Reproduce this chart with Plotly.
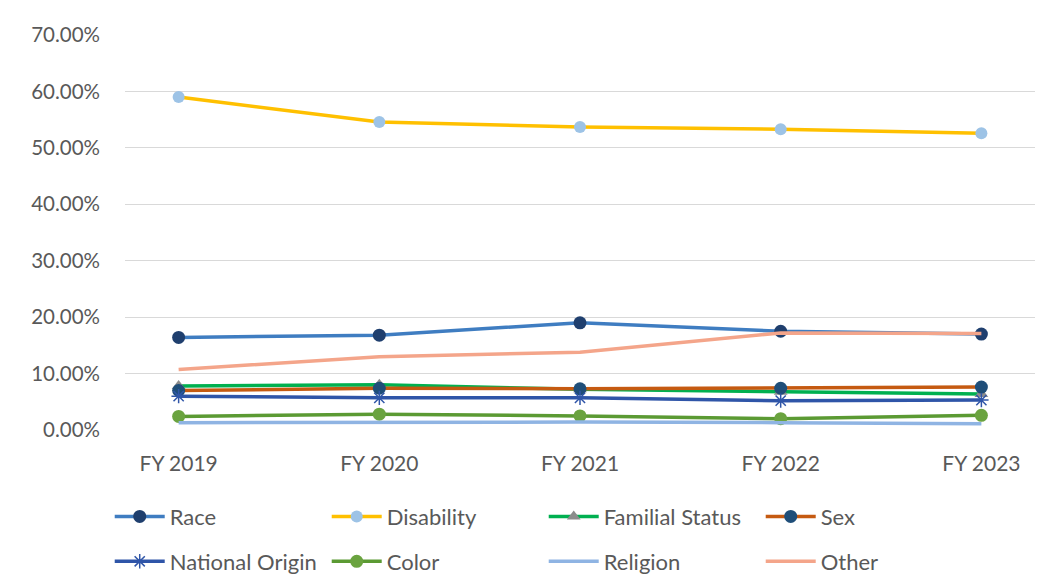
import plotly.graph_objects as go

years = ["FY 2019", "FY 2020", "FY 2021", "FY 2022", "FY 2023"]

race = [16.4, 16.8, 19.0, 17.5, 17.0]
disability = [59.0, 54.6, 53.7, 53.3, 52.6]
familial_status = [7.8, 8.0, 7.2, 6.8, 6.4]
sex = [7.0, 7.4, 7.3, 7.4, 7.6]
national_origin = [6.0, 5.7, 5.7, 5.2, 5.3]
color = [2.4, 2.8, 2.5, 2.0, 2.6]
religion = [1.3, 1.4, 1.4, 1.3, 1.1]
other = [10.7, 13.0, 13.8, 17.2, 17.1]

y_ticks = [0, 10, 20, 30, 40, 50, 60, 70]
y_tick_labels = [f"{v:.2f}%" for v in y_ticks]

# (name, values, line colour, marker, legend row)
series = [
    ("Race", race, "#3F7DC1", dict(symbol="circle", size=13, color="#1F3F6E"), "legend"),
    ("Disability", disability, "#FFC000", dict(symbol="circle", size=12, color="#9DC3E6"), "legend"),
    ("Familial Status", familial_status, "#00B050",
     dict(symbol="triangle-up", size=12, color="#8C8C8C"), "legend"),
    ("Sex", sex, "#C55A11", dict(symbol="circle", size=13, color="#1F4E79"), "legend"),
    ("National Origin", national_origin, "#2F55A8",
     dict(symbol="asterisk-open", size=12, color="#2F55A8", line=dict(width=1.5, color="#2F55A8")),
     "legend2"),
    ("Color", color, "#5B9A33", dict(symbol="circle", size=13, color="#6AA33F"), "legend2"),
    ("Religion", religion, "#8FB4E3", None, "legend2"),
    ("Other", other, "#F4A58A", None, "legend2"),
]

fig = go.Figure()
for name, vals, line_color, marker, leg in series:
    kwargs = dict(x=years, y=vals, name=name, legend=leg,
                  line=dict(color=line_color, width=3.5))
    if marker is None:
        kwargs["mode"] = "lines"
    else:
        kwargs["mode"] = "lines+markers"
        kwargs["marker"] = marker
    fig.add_trace(go.Scatter(**kwargs))

legend_style = dict(
    orientation="h",
    xref="container", x=0.104, xanchor="left",
    yref="container", yanchor="top",
    entrywidth=152, entrywidthmode="pixels",
    font=dict(size=22, color="#595959"),
    traceorder="normal", itemwidth=50,
    bgcolor="rgba(0,0,0,0)",
)

fig.update_layout(
    width=1055, height=575,
    margin=dict(l=125, r=20, t=35, b=145, autoexpand=False),
    paper_bgcolor="white", plot_bgcolor="white",
    font=dict(family="Lato, Open Sans, sans-serif", size=20, color="#595959"),
    showlegend=True,
    legend=dict(legend_style, y=0.138),
    legend2=dict(legend_style, y=0.060),
)
fig.update_xaxes(
    type="category", showgrid=False, showline=False, zeroline=False,
    ticks="", tickfont=dict(size=21, color="#595959"), ticklabelstandoff=19,
)
fig.update_yaxes(
    range=[0, 70], tickvals=y_ticks, ticktext=y_tick_labels,
    showgrid=True, gridcolor="#D9D9D9", gridwidth=1.3,
    zeroline=False, showline=False, ticks="",
    tickfont=dict(size=20.5, color="#595959"), ticklabelstandoff=24,
)

fig.write_html("out.html")
